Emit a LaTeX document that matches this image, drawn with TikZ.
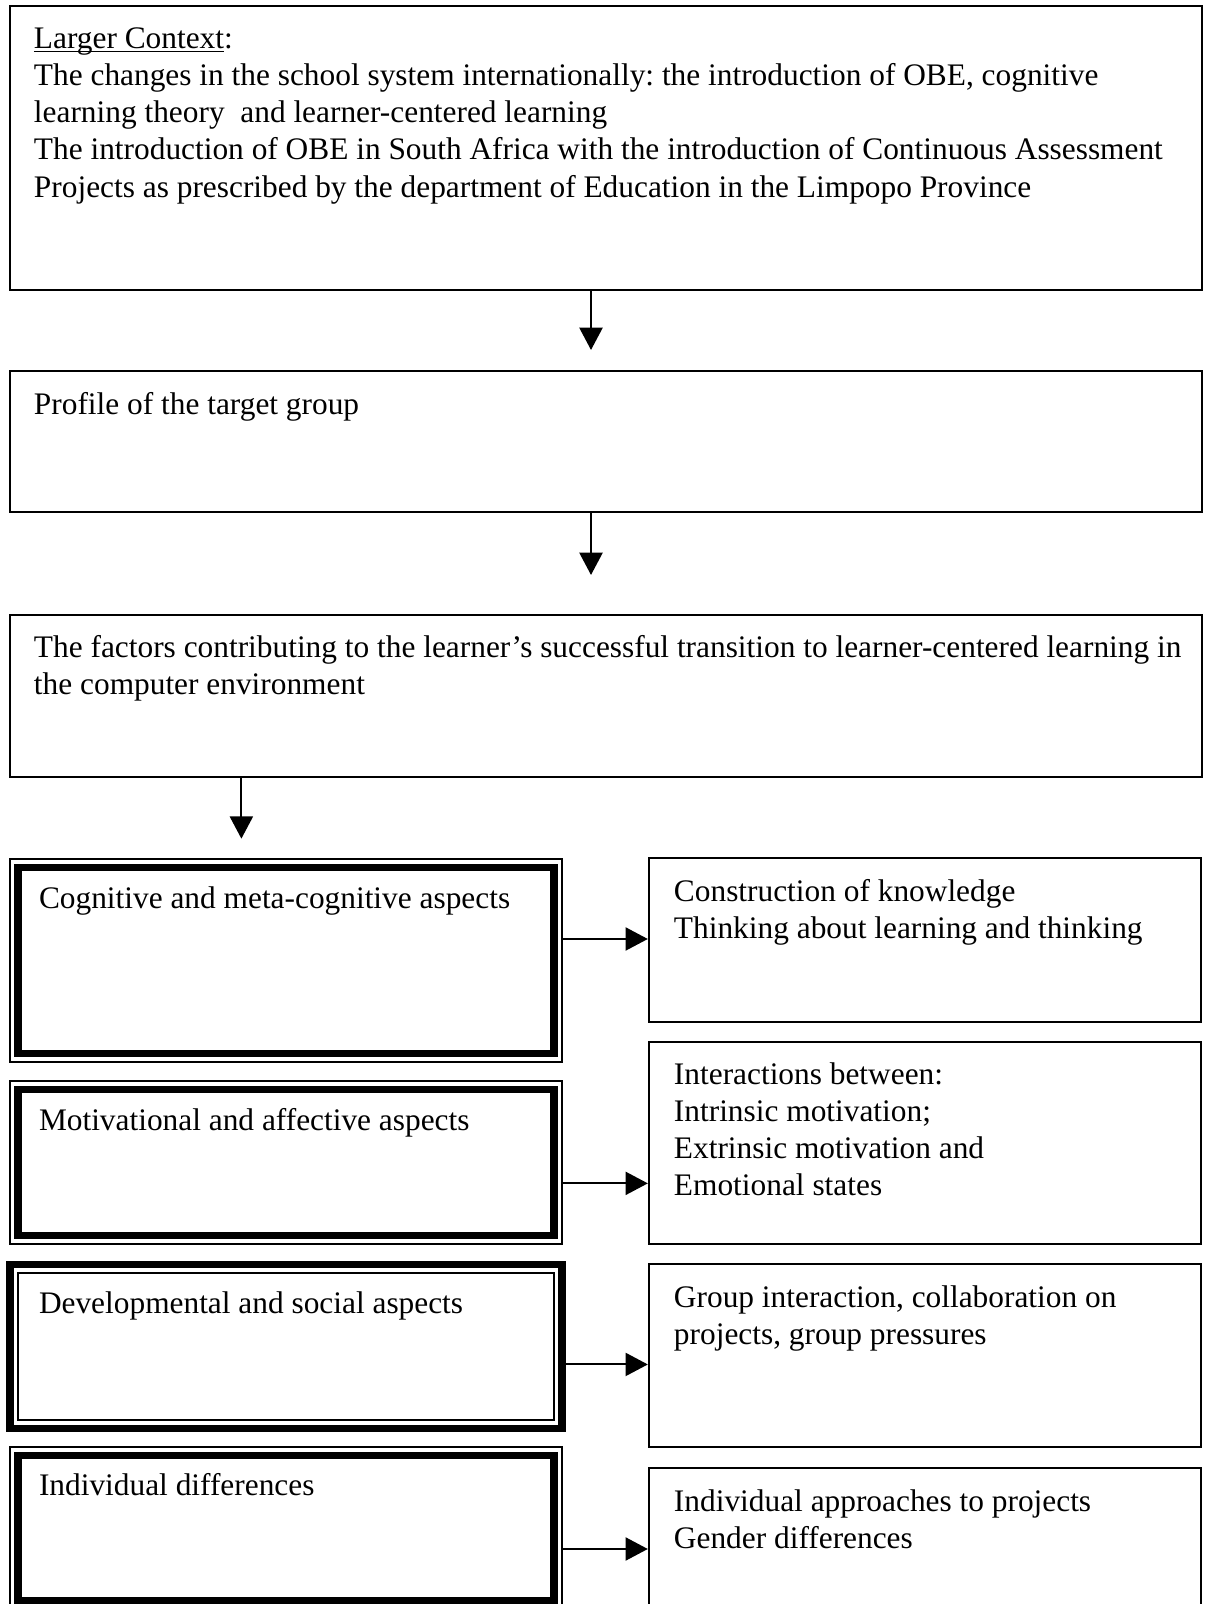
\documentclass[tikz,border=0pt]{standalone}
\usepackage{fontspec}
\setmainfont{Liberation Serif}
\usetikzlibrary{arrows.meta}
\frenchspacing
\tikzset{
  box/.style={draw, line width=0.75pt, inner sep=0pt, minimum width=15.496cm},
  outerframe/.style={inner sep=0pt, outer sep=0pt, minimum width=7.176cm},
  innerframe/.style={inner sep=0pt, outer sep=0pt, minimum width=6.968cm},
  thinline/.style={draw, line width=0.75pt},
  thickline/.style={draw, line width=2.8pt},
  note/.style={draw, line width=0.75pt, inner sep=0pt, minimum width=7.18cm},
  txt/.style={anchor=north west, inner sep=0pt, outer sep=0pt, align=left},
  arrow/.style={-{Triangle[length=2.9mm, width=3mm]}, line width=0.75pt}
}

\begin{document}
\begin{tikzpicture}[font=\fontsize{11.6}{13.8}\selectfont]
  \useasboundingbox (0,0) rectangle (15.717,20.852);

  % upper chain
  \node[box, minimum height=3.686cm] (ctx) at (7.878,18.931) {};
  \node[txt] (ctxtext) at ([shift={(0.325,-0.22)}]ctx.north west) {\strut\underline{\smash{Larger Context}}:\\
    The changes in the school system internationally: the introduction of OBE, cognitive\\
    learning theory\ \ and learner-centered learning\\
    The introduction of OBE in South Africa with the introduction of Continuous Assessment\\
    Projects as prescribed by the department of Education in the Limpopo Province};

  \node[box, minimum height=1.833cm] (profile) at (7.878,15.113) {};
  \node[txt] (profiletext) at ([shift={(0.325,-0.24)}]profile.north west) {\strut Profile of the target group};

  \node[box, minimum height=2.106cm] (factors) at (7.878,11.804) {};
  \node[txt] (factorstext) at ([shift={(0.325,-0.22)}]factors.north west) {\strut The factors contributing to the learner’s successful transition to learner-centered learning in\\
    the computer environment};

  \coordinate (tip1) at (7.683,16.302);
  \coordinate (tip2) at (7.683,13.377);
  \coordinate (tip3) at (3.138,9.949);
  \draw[arrow] (ctx.south -| tip1) -- (tip1);
  \draw[arrow] (profile.south -| tip2) -- (tip2);
  \draw[arrow] (factors.south -| tip3) -- (tip3);

  % aspects (left)
  \node[outerframe, thinline, minimum height=2.639cm] (cogframe) at (3.718,8.366) {};
  \node[innerframe, thickline, minimum height=2.418cm] (cog) at (cogframe) {};
  \node[txt] (cogtext) at ([shift={(0.273,-0.19)}]cog.north west) {\strut Cognitive and meta-cognitive aspects};

  \node[outerframe, thinline, minimum height=2.119cm] (motframe) at (3.718,5.740) {};
  \node[innerframe, thickline, minimum height=1.898cm] (mot) at (motframe) {};
  \node[txt] (mottext) at ([shift={(0.273,-0.20)}]mot.north west) {\strut Motivational and affective aspects};

  \node[outerframe, thickline, minimum height=2.132cm] (devframe) at (3.718,3.348) {};
  \node[innerframe, thinline, minimum height=1.911cm] (dev) at (devframe) {};
  \node[txt] (devtext) at ([shift={(0.273,-0.19)}]dev.north west) {\strut Developmental and social aspects};

  \node[outerframe, thinline, minimum height=2.106cm] (indframe) at (3.718,0.988) {};
  \node[innerframe, thickline, minimum height=1.885cm] (ind) at (indframe) {};
  \node[txt] (indtext) at ([shift={(0.273,-0.18)}]ind.north west) {\strut Individual differences};

  % descriptions (right)
  \node[note, minimum height=2.132cm] (cognote) at (12.025,8.632) {};
  \node[txt] (cognotetext) at ([shift={(0.34,-0.24)}]cognote.north west) {\strut Construction of knowledge\\
    Thinking about learning and thinking};

  \node[note, minimum height=2.626cm] (motnote) at (12.025,5.993) {};
  \node[txt] (motnotetext) at ([shift={(0.34,-0.22)}]motnote.north west) {\strut Interactions between:\\
    Intrinsic motivation;\\
    Extrinsic motivation and\\
    Emotional states};

  \node[note, minimum height=2.379cm] (devnote) at (12.025,3.231) {};
  \node[txt] (devnotetext) at ([shift={(0.34,-0.24)}]devnote.north west) {\strut Group interaction, collaboration on\\
    projects, group pressures};

  \node[note, minimum height=2.366cm] (indnote) at (12.025,0.585) {};
  \node[txt] (indnotetext) at ([shift={(0.34,-0.24)}]indnote.north west) {\strut Individual approaches to projects\\
    Gender differences};

  \coordinate (from1) at ([yshift=0.279cm]cogframe.east);
  \coordinate (from2) at ([yshift=-0.272cm]motframe.east);
  \coordinate (from3) at ([yshift=-0.234cm]devframe.east);
  \coordinate (from4) at ([yshift=-0.273cm]indframe.east);
  \draw[arrow] (from1) -- (from1 -| cognote.west);
  \draw[arrow] (from2) -- (from2 -| motnote.west);
  \draw[arrow] (from3) -- (from3 -| devnote.west);
  \draw[arrow] (from4) -- (from4 -| indnote.west);
\end{tikzpicture}
\end{document}
